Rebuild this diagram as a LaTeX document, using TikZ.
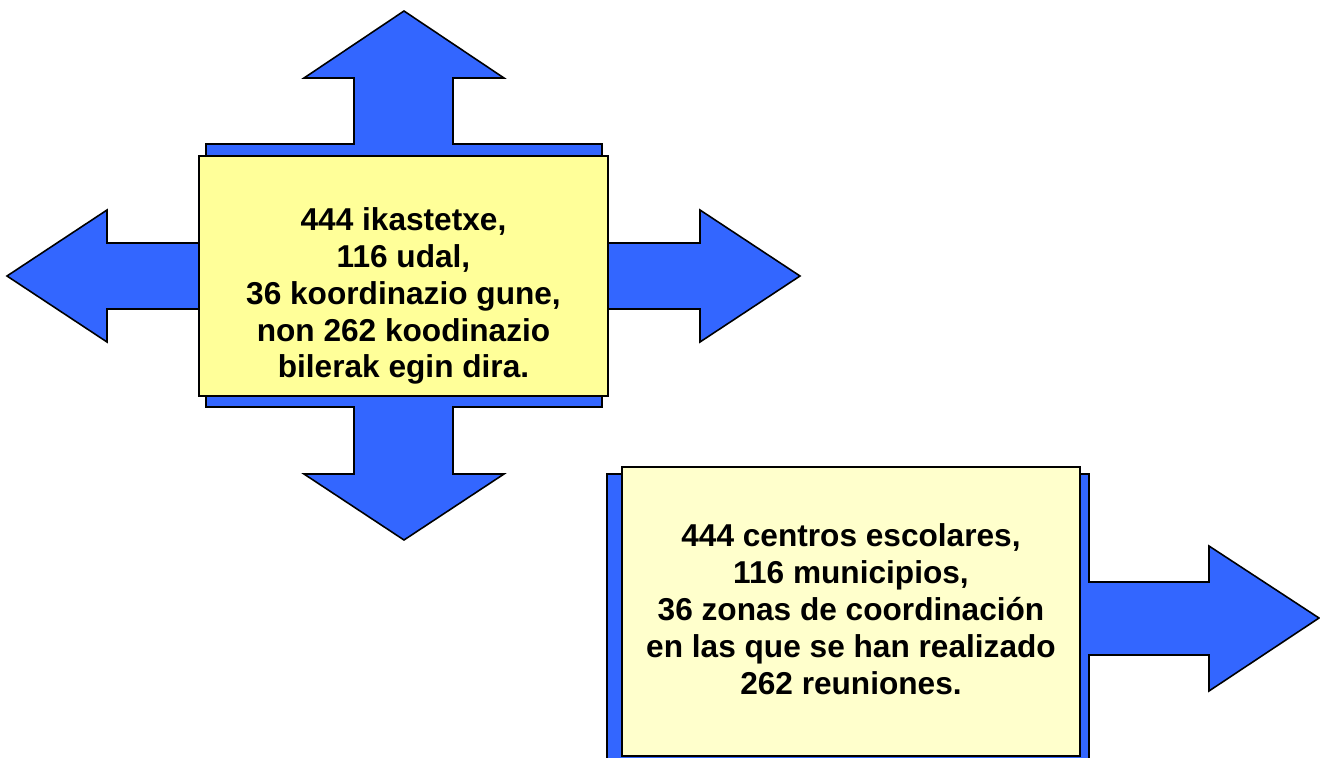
\documentclass[tikz,border=0pt]{standalone}
\usepackage{fontspec}
\setmainfont{Liberation Sans}
\usetikzlibrary{positioning}
\definecolor{arrowblue}{HTML}{3366FF}
\definecolor{paleyellow}{HTML}{FFFF99}
\definecolor{creamyellow}{HTML}{FFFFCC}

\begin{document}
\begin{tikzpicture}[x=0.02cm,y=-0.02cm,
	arrowshape/.style={fill=arrowblue,draw=black,line width=0.9pt,line join=miter},
	infobox/.style={draw=black,line width=0.9pt,minimum width=#1,inner sep=0pt},
	infotext/.style={align=center,font=\fontsize{18}{21}\selectfont\bfseries}]
	\useasboundingbox (0,0) rectangle (1320,758);
	% four-way arrow behind the first box
	\draw[arrowshape] (404,11) -- (504,78) -- (453,78) -- (453,144) -- (602,144) -- (602,243)
	-- (700,243) -- (700,210) -- (800,276) -- (700,342) -- (700,309) -- (602,309) -- (602,407)
	-- (453,407) -- (453,474) -- (504,474) -- (404,540) -- (304,474) -- (354,474) -- (354,407)
	-- (206,407) -- (206,309) -- (107,309) -- (107,342) -- (7,276) -- (107,210) -- (107,243)
	-- (206,243) -- (206,144) -- (354,144) -- (354,78) -- (304,78) -- cycle;
	% arrow behind the second box
	\draw[arrowshape] (607,474) -- (1089,474) -- (1089,582) -- (1209,582) -- (1209,546)
	-- (1319,618) -- (1209,691) -- (1209,655) -- (1089,655) -- (1089,770) -- (607,770) -- cycle;
	\node[infobox=8.18cm,minimum height=4.8cm,fill=paleyellow] (box_0) at (403.5,276) {};
	\node[infotext] (txt_0) at (403.5,296) {444 ikastetxe,\\116 udal,\\36 koordinazio gune,\\non 262 koodinazio\\bilerak egin dira.};
	\node[infobox=9.16cm,minimum height=5.78cm,fill=creamyellow] (box_1) at (851,611.5) {};
	\node[infotext] (txt_1) at (851,609) {444 centros escolares,\\116 municipios,\\36 zonas de coordinación\\en las que se han realizado\\262 reuniones.};
\end{tikzpicture}
\end{document}
